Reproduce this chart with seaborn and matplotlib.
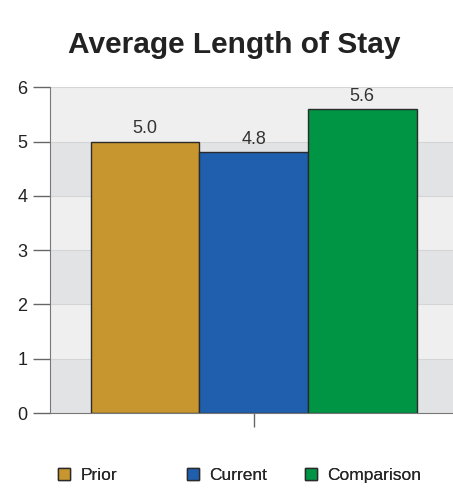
import matplotlib.pyplot as plt
import pandas as pd
import seaborn as sns

groups = ["Prior", "Current", "Comparison"]
values = [5.0, 4.8, 5.6]
colors = ["#C8962E", "#1F5FAD", "#009445"]
y_ticks = [0, 1, 2, 3, 4, 5, 6]

df = pd.DataFrame({"metric": ["Average Length of Stay"] * 3, "group": groups, "value": values})

sns.set_style("white")
plt.rcParams["font.family"] = ["Liberation Sans", "DejaVu Sans"]

fig = plt.figure(figsize=(4.53, 4.90), dpi=100)
ax = fig.add_axes([0.110, 0.157, 0.905, 0.665])

# alternating bands behind the bars
for lo in range(0, 6):
    ax.axhspan(lo, lo + 1, color="#e2e3e5" if lo % 2 == 0 else "#efefef", zorder=0, lw=0)
for y in y_ticks[1:]:
    ax.axhline(y, color="#d4d5d7", lw=0.8, zorder=0.5)

sns.barplot(data=df, x="metric", y="value", hue="group", hue_order=groups,
            palette=colors, width=0.8, edgecolor="#2b2b2b", linewidth=1.0,
            saturation=1, ax=ax, zorder=2)

for cont in ax.containers:
    ax.bar_label(cont, fmt="%.1f", padding=3, fontsize=13, color="#333333")

ax.set_ylim(0, 6)
ax.set_xlim(-0.50, 0.506)
ax.set_yticks(y_ticks)
ax.set_xticks([0])
ax.set_xticklabels([""])
ax.set_xlabel("")
ax.set_ylabel("")
ax.tick_params(axis="y", labelsize=13, length=12, width=1, pad=4, color="#666666",
               labelcolor="#222222", left=True)
ax.tick_params(axis="x", length=10, width=1, color="#666666", bottom=True)
for side in ["top", "right"]:
    ax.spines[side].set_visible(False)
ax.spines["left"].set_color("#777777")
ax.spines["bottom"].set_color("#777777")

fig.text(0.517, 0.908, "Average Length of Stay", fontsize=21.5, fontweight="bold",
         color="#222222", ha="center", va="center")

handles, labels = ax.get_legend_handles_labels()
ax.legend_.remove()
# one legend per entry so the spacing can follow the reference
legend_x = [58 / 453, 187 / 453, 305 / 453]
for h, lab, lx in zip(handles, labels, legend_x):
    leg = fig.legend([h], [lab], loc="center left", bbox_to_anchor=(lx, 0.029), frameon=False,
                     fontsize=12.5, handlelength=0.7, handleheight=0.7, handletextpad=0.6,
                     borderpad=0, borderaxespad=0)
    fig.add_artist(leg)

fig.savefig("out.png", dpi=100)
